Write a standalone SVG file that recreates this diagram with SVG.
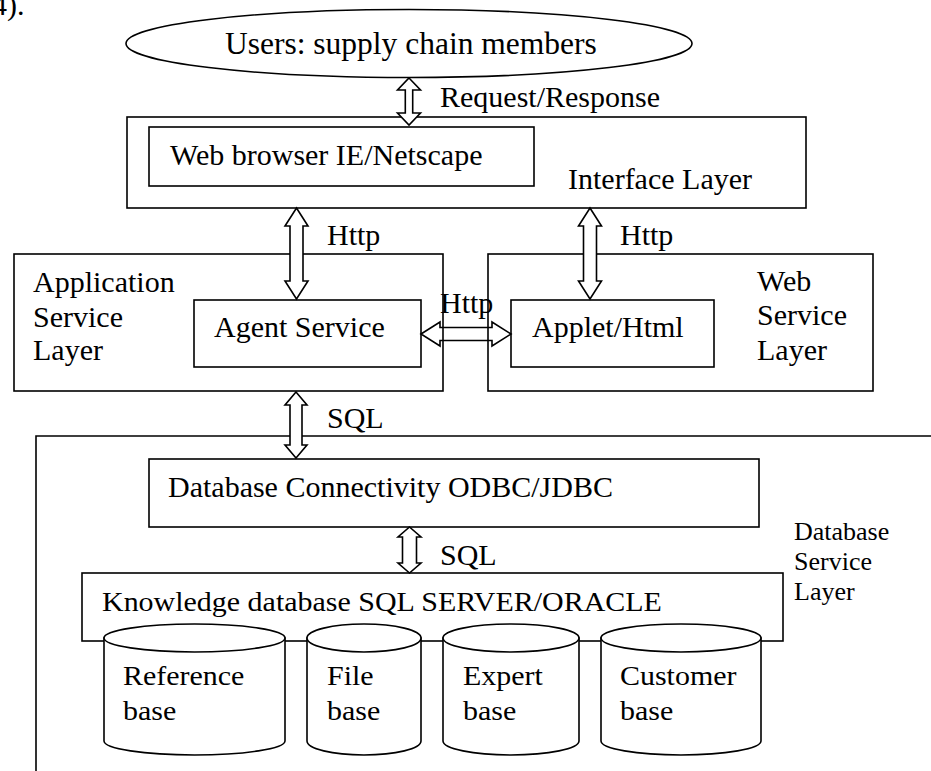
<svg xmlns="http://www.w3.org/2000/svg" width="931" height="771" viewBox="0 0 931 771">
<style>
  text { font-family: "Liberation Serif", "Times New Roman", serif; font-size: 30px; fill: #000; }
  .sm { font-size: 26px; }
  .box { fill: none; stroke: #000; stroke-width: 1.6; }
  .wbox { fill: #fff; stroke: #000; stroke-width: 1.6; }
  .arr { fill: #fff; stroke: #000; stroke-width: 1.6; stroke-linejoin: miter; }
  .arrn { fill: none; stroke: #000; stroke-width: 1.6; stroke-linejoin: miter; }
</style>
<rect width="931" height="771" fill="#fff"/>
<text x="-8" y="15">4).</text>

<g id="users">
  <ellipse cx="409" cy="43.5" rx="283" ry="34" class="wbox"/>
  <text x="225" y="54" style="font-size:31.5px">Users: supply chain members</text>
</g>

<g id="interface-layer">
  <rect x="127" y="117" width="679" height="91" class="box"/>
  <text x="568" y="189">Interface Layer</text>
</g>
<g id="web-browser">
  <rect x="149" y="127" width="385" height="59" class="box"/>
  <text x="170" y="165">Web browser IE/Netscape</text>
</g>

<g id="application-service-layer">
  <rect x="14" y="254" width="429" height="137" class="box"/>
  <text x="33" y="292">Application</text>
  <text x="33" y="327">Service</text>
  <text x="33" y="360">Layer</text>
</g>
<g id="agent-service">
  <rect x="194" y="300" width="227" height="67" class="box"/>
  <text x="214" y="337">Agent Service</text>
</g>

<g id="web-service-layer">
  <rect x="488" y="254" width="385" height="137" class="box"/>
  <text x="757" y="291">Web</text>
  <text x="757" y="325">Service</text>
  <text x="757" y="360">Layer</text>
</g>
<g id="applet-html">
  <rect x="511" y="300" width="203" height="67" class="box"/>
  <text x="532" y="337">Applet/Html</text>
</g>

<g id="database-service-layer">
  <polyline points="931,436 36,436 36,771" class="box"/>
  <text x="794" y="540" class="sm">Database</text>
  <text x="794" y="570" class="sm">Service</text>
  <text x="794" y="600" class="sm">Layer</text>
</g>
<g id="database-connectivity">
  <rect x="149" y="459" width="610" height="68" class="box"/>
  <text x="168" y="497">Database Connectivity ODBC/JDBC</text>
</g>
<g id="knowledge-database">
  <rect x="82" y="573" width="701" height="68" class="box"/>
  <text transform="translate(102,611) scale(1.11,1)" style="font-size:27px">Knowledge database SQL SERVER/ORACLE</text>
</g>

<g id="reference-base">
  <path d="M104,638 L104,741 A90.5,14 0 0 0 285,741 L285,638 Z" class="wbox"/>
  <ellipse cx="194.5" cy="638" rx="90.5" ry="14" class="wbox"/>
  <text transform="translate(123,685) scale(1.11,1)" style="font-size:27px">Reference</text>
  <text transform="translate(123,720) scale(1.11,1)" style="font-size:27px">base</text>
</g>
<g id="file-base">
  <path d="M307,638 L307,741 A57,14 0 0 0 421,741 L421,638 Z" class="wbox"/>
  <ellipse cx="364" cy="638" rx="57" ry="14" class="wbox"/>
  <text transform="translate(327,685) scale(1.11,1)" style="font-size:27px">File</text>
  <text transform="translate(327,720) scale(1.11,1)" style="font-size:27px">base</text>
</g>
<g id="expert-base">
  <path d="M443,638 L443,741 A68,14 0 0 0 579,741 L579,638 Z" class="wbox"/>
  <ellipse cx="511" cy="638" rx="68" ry="14" class="wbox"/>
  <text transform="translate(463,685) scale(1.11,1)" style="font-size:27px">Expert</text>
  <text transform="translate(463,720) scale(1.11,1)" style="font-size:27px">base</text>
</g>
<g id="customer-base">
  <path d="M601,638 L601,741 A80,14 0 0 0 761,741 L761,638 Z" class="wbox"/>
  <ellipse cx="681" cy="638" rx="80" ry="14" class="wbox"/>
  <text transform="translate(620,685) scale(1.11,1)" style="font-size:27px">Customer</text>
  <text transform="translate(620,720) scale(1.11,1)" style="font-size:27px">base</text>
</g>

<g id="connectors">
  <polygon class="arr" points="409,78 420.5,90 412.7,90 412.7,113 420.5,113 409,125 397.5,113 405.3,113 405.3,90 397.5,90"/>
  <text x="440" y="107">Request/Response</text>

  <polygon class="arr" points="296.5,208 308,226 303,226 303,281 308,281 296.5,299 285,281 290,281 290,226 285,226"/>
  <text x="327" y="245">Http</text>

  <polygon class="arr" points="590,208 601.5,226 596.5,226 596.5,281 601.5,281 590,299 578.5,281 583.5,281 583.5,226 578.5,226"/>
  <text x="620" y="245">Http</text>

  <polygon class="arrn" points="421,334 440,322 440,327.5 492,327.5 492,322 511,334 492,346 492,340.5 440,340.5 440,346"/>
  <text x="440" y="313">Http</text>

  <polygon class="arr" points="296,392 307,405 302,405 302,445 307,445 296,458 285,445 290,445 290,405 285,405"/>
  <text x="327" y="428">SQL</text>

  <polygon class="arr" points="409.5,527 421,537 416.5,537 416.5,563 421,563 409.5,573 398,563 402.5,563 402.5,537 398,537"/>
  <text x="440" y="565">SQL</text>
</g>
</svg>
